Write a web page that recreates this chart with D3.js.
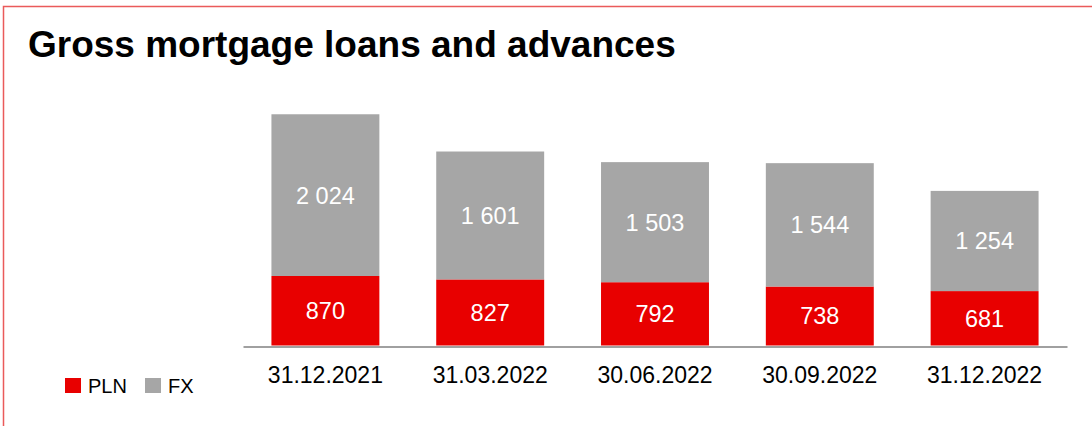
<!DOCTYPE html>
<html>
<head>
<meta charset="utf-8">
<script src="https://cdn.jsdelivr.net/npm/d3@7"></script>
<style>
  html, body { margin: 0; padding: 0; background: white; }
  text { font-family: "Liberation Sans", Arial, sans-serif; }
</style>
</head>
<body>
<script>
'use strict';
// chart data
const dates = ["31.12.2021", "31.03.2022", "30.06.2022", "30.09.2022", "31.12.2022"];
const plnValues = [870, 827, 792, 738, 681];
const fxValues = [2024, 1601, 1503, 1544, 1254];
const seriesNames = ["PLN", "FX"];
const seriesColors = ["#e80000", "#a6a6a6"];

(function() {
    const width = 1092, height = 426;

    let svg = d3.select('body')
        .append('svg')
        .attr('width', width)
        .attr('height', height);

    // frame (only top and left are visible in the window)
    svg.append('path')
        .attr('d', 'M3.5,' + height + ' L3.5,6.5 L' + width + ',6.5')
        .attr('fill', 'none')
        .attr('stroke', '#ea5a5a')
        .attr('stroke-width', 1.5);

    // title
    svg.append('text')
        .attr('x', 28)
        .attr('y', 57)
        .style('font-size', '37px')
        .style('font-weight', 'bold')
        .attr('fill', '#000')
        .text('Gross mortgage loans and advances');

    // scales
    let xScale = d3.scaleBand()
        .domain(dates)
        .range([243, 1067])
        .paddingInner(0.345)
        .paddingOuter(0.1725);

    let yScale = d3.scaleLinear()
        .domain([0, 3000])
        .range([345.5, 345.5 - 3000 * 0.0799]);

    let rows = dates.map((d, i) => ({date: d, PLN: plnValues[i], FX: fxValues[i]}));
    let stacked = d3.stack().keys(seriesNames)(rows);

    let fmt = v => d3.format(',')(v).replace(/,/g, ' ');

    stacked.forEach((layer, li) => {
        let g = svg.append('g');
        g.selectAll('rect')
            .data(layer)
            .enter()
            .append('rect')
            .attr('x', d => xScale(d.data.date))
            .attr('y', d => yScale(d[1]))
            .attr('width', xScale.bandwidth())
            .attr('height', d => yScale(d[0]) - yScale(d[1]))
            .attr('fill', seriesColors[li]);

        g.selectAll('text')
            .data(layer)
            .enter()
            .append('text')
            .attr('x', d => xScale(d.data.date) + xScale.bandwidth() / 2)
            .attr('y', d => (yScale(d[0]) + yScale(d[1])) / 2)
            .attr('dy', '0.36em')
            .attr('text-anchor', 'middle')
            .attr('fill', 'white')
            .style('font-size', '23.5px')
            .text(d => fmt(d[1] - d[0]));
    });

    // x axis
    let xAxis = d3.axisBottom(xScale).tickSize(0).tickPadding(20.5);
    let axisG = svg.append('g')
        .attr('transform', 'translate(0,346.5)')
        .call(xAxis);
    axisG.select('.domain')
        .attr('stroke', '#a0a0a0')
        .attr('stroke-width', 2);
    axisG.selectAll('.tick text')
        .attr('fill', '#000')
        .style('font-family', '"Liberation Sans", Arial, sans-serif')
        .style('font-size', '23px');

    // legend
    let legend = svg.append('g').attr('transform', 'translate(65,378)');
    let legendX = [0, 80];
    seriesNames.forEach((name, i) => {
        legend.append('rect')
            .attr('x', legendX[i])
            .attr('y', 0)
            .attr('width', 16)
            .attr('height', 15)
            .attr('fill', seriesColors[i]);
        legend.append('text')
            .attr('x', legendX[i] + 23)
            .attr('y', 8)
            .attr('dy', '0.36em')
            .style('font-size', '20px')
            .attr('fill', '#000')
            .text(name);
    });
})();
</script>
</body>
</html>
